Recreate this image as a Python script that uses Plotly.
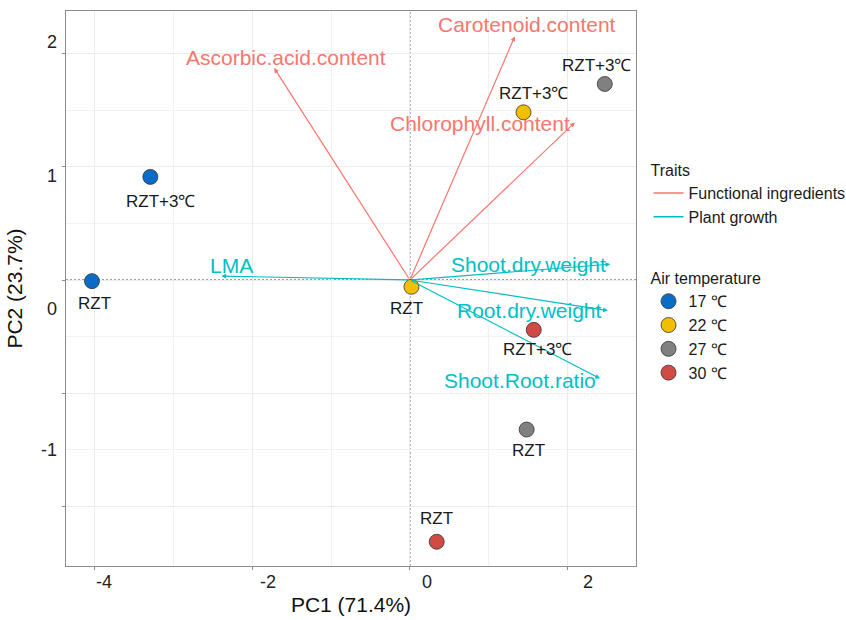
import plotly.graph_objects as go

# ---- sample scores (PC1, PC2) ----
temperatures = ["17 ℃", "22 ℃", "27 ℃", "30 ℃"]
treatments = ["RZT", "RZT+3℃"]
pc1_rzt = [-4.03, 0.02, 1.48, 0.34]
pc2_rzt = [-0.01, -0.06, -1.32, -2.31]
pc1_rzt3 = [-3.29, 1.44, 2.47, 1.57]
pc2_rzt3 = [0.91, 1.48, 1.73, -0.44]

# ---- trait loadings ----
traits = ["Ascorbic.acid.content", "Carotenoid.content", "Chlorophyll.content",
          "Shoot.dry.weight", "Root.dry.weight", "Shoot.Root.ratio", "LMA"]
trait_groups = ["Functional ingredients", "Functional ingredients", "Functional ingredients",
                "Plant growth", "Plant growth", "Plant growth", "Plant growth"]
load_pc1 = [-1.72, 1.33, 2.09, 2.54, 2.51, 2.41, -2.39]
load_pc2 = [1.87, 2.15, 1.39, 0.14, -0.27, -0.87, 0.035]

# ---- axis ticks and their printed labels ----
x_ticks = [-4, -2, 0, 2]
y_ticks = [-2, -1, 0, 1, 2]
x_tick_text = ["-4", "-2", "0", "2"]
y_tick_text = ["2", "1", "0", "-1"]
x_label_at = [-3.88, -1.80, 0.215, 2.256]
y_label_at = [2.10, 0.918, -0.256, -1.50]

FONT = "Liberation Sans, Arial, sans-serif"
temp_colors = ["#0A6CC6", "#F2BE00", "#808080", "#CF4B43"]
group_colors = {"Functional ingredients": "#F8766D", "Plant growth": "#00BFC4"}

# label placement (pixel shifts from the mark)
trait_label_shift = [(12, 11), (12, 12), (-95, -1), (-82, 0), (-78, 0), (-80, -2), (10, 11)]
rzt_label_shift = [(3, -22), (-5, -22), (2, -21), (0, 23)]
rzt3_label_shift = [(10, -25), (10, 19), (-8, 18), (4, -20)]

fig = go.Figure()

# legend entries for the trait groups
for grp, col in group_colors.items():
    fig.add_trace(go.Scatter(
        x=[None], y=[None], mode="lines", name=grp,
        line=dict(color=col, width=1.5), legend="legend", hoverinfo="skip"))

# sample points, one trace per air temperature
for i, t in enumerate(temperatures):
    fig.add_trace(go.Scatter(
        x=[pc1_rzt[i], pc1_rzt3[i]], y=[pc2_rzt[i], pc2_rzt3[i]],
        mode="markers", name=t, legend="legend2",
        text=treatments,
        marker=dict(size=15, color=temp_colors[i], line=dict(color="#333333", width=0.8))))

# reference lines through the origin
ref_line = dict(color="#3A3A3A", width=1, dash="2px,2px")
fig.add_hline(y=0, line=ref_line, layer="below")
fig.add_vline(x=0, line=ref_line, layer="below")

# loading arrows with labels
for name, grp, px, py, (sx, sy) in zip(traits, trait_groups, load_pc1, load_pc2, trait_label_shift):
    col = group_colors[grp]
    fig.add_annotation(x=px, y=py, ax=0, ay=0, xref="x", yref="y", axref="x", ayref="y",
                       text="", showarrow=True, arrowhead=2, arrowsize=0.8,
                       arrowwidth=1.2, arrowcolor=col, standoff=0)
    fig.add_annotation(x=px, y=py, xref="x", yref="y", text=name, showarrow=False,
                       xshift=sx, yshift=sy, font=dict(family=FONT, size=21, color=col))

# point labels
for i in range(len(temperatures)):
    for (px, py, (sx, sy), lab) in [(pc1_rzt[i], pc2_rzt[i], rzt_label_shift[i], treatments[0]),
                                    (pc1_rzt3[i], pc2_rzt3[i], rzt3_label_shift[i], treatments[1])]:
        fig.add_annotation(x=px, y=py, xref="x", yref="y", text=lab, showarrow=False,
                           xshift=sx, yshift=sy, font=dict(family=FONT, size=17, color="#1a1a1a"))

# printed tick labels
for v, s in zip(x_label_at, x_tick_text):
    fig.add_annotation(x=v, y=0, xref="x", yref="paper", yanchor="top", yshift=-4,
                       text=s, showarrow=False, font=dict(family=FONT, size=18, color="#222222"))
for v, s in zip(y_label_at, y_tick_text):
    fig.add_annotation(x=0, y=v, xref="paper", yref="y", xanchor="right", xshift=-7,
                       text=s, showarrow=False, font=dict(family=FONT, size=18, color="#222222"))

axis_common = dict(
    showticklabels=False, ticks="outside", ticklen=3, tickcolor="#8C8C8C", tickwidth=1,
    showgrid=True, gridcolor="#EBEBEB", gridwidth=1, zeroline=False,
    showline=True, mirror=True, linecolor="#8C8C8C", linewidth=1.3,
)

fig.update_layout(
    width=846, height=620,
    margin=dict(l=66, r=210, t=11, b=54, autoexpand=False),
    paper_bgcolor="white", plot_bgcolor="white",
    font=dict(family=FONT, color="#1a1a1a"),
    xaxis=dict(range=[-4.359, 2.866], tickvals=x_ticks,
               minor=dict(tickvals=[-3, -1, 1], showgrid=True, gridcolor="#F2F2F2", ticks=""),
               title=dict(text="PC1 (71.4%)", font=dict(size=21, color="#111111"), standoff=28),
               **axis_common),
    yaxis=dict(range=[-2.524, 2.374], tickvals=y_ticks,
               minor=dict(tickvals=[-1.5, -0.5, 0.5, 1.5], showgrid=True, gridcolor="#F2F2F2", ticks=""),
               title=dict(text="PC2 (23.7%)", font=dict(size=21, color="#111111"), standoff=33),
               **axis_common),
    legend=dict(title=dict(text="Traits", font=dict(size=16)), font=dict(size=16),
                x=1.022, y=0.74, xanchor="left", yanchor="top",
                bgcolor="rgba(0,0,0,0)", itemwidth=30, tracegroupgap=0),
    legend2=dict(title=dict(text="Air temperature", font=dict(size=16)), font=dict(size=16),
                 x=1.022, y=0.545, xanchor="left", yanchor="top",
                 bgcolor="rgba(0,0,0,0)", itemwidth=30, tracegroupgap=0),
    showlegend=True,
)

fig.write_html("out.html")
